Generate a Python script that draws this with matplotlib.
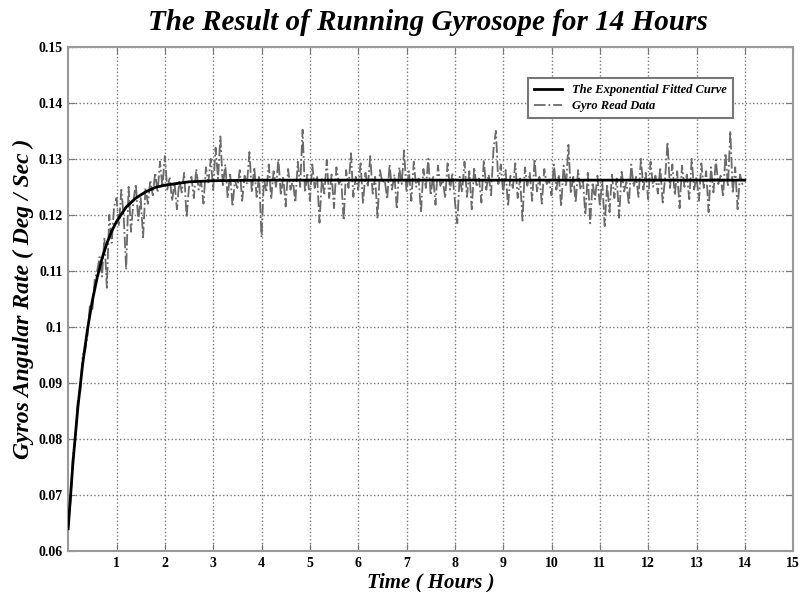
"""
plot.py - Gyroscope 14 h run: raw gyro output and exponential fit.
"""

import numpy as np
import matplotlib
matplotlib.use("Agg")
import matplotlib.pyplot as plt
from matplotlib.ticker import FuncFormatter

# fitted exponential curve (hours, deg/s)
fit_t = [0.0, 0.1, 0.2, 0.3, 0.4, 0.5, 0.6, 0.7, 0.8, 0.9, 1.0, 1.2, 1.4,
         1.6, 1.8, 2.0, 2.5, 3.0, 4.0, 6.0, 8.0, 10.0, 12.0, 14.0]
fit_y = [0.0640, 0.0759, 0.0856, 0.0934, 0.0996, 0.1047, 0.1088, 0.1122,
         0.1149, 0.1171, 0.1188, 0.1214, 0.1230, 0.1241, 0.1249, 0.1253,
         0.1259, 0.1261, 0.1262, 0.1262, 0.1262, 0.1262, 0.1262, 0.1262]

# gyro samples, one every 3 minutes (20 per hour)
PAS = 0.05
gyro = [
    # heure 0
    0.0645, 0.0690, 0.0772, 0.0800, 0.0870, 0.0885, 0.0950, 0.0958, 0.0985, 0.1040,
    0.1030, 0.1085, 0.1100, 0.1125, 0.1090, 0.1160, 0.1070, 0.1200, 0.1150, 0.1215,
    # heure 1
    0.1230, 0.1180, 0.1245, 0.1195, 0.1102, 0.1250, 0.1170, 0.1225, 0.1255, 0.1190,
    0.1230, 0.1160, 0.1248, 0.1220, 0.1262, 0.1235, 0.1275, 0.1240, 0.1295, 0.1250,
    # heure 2
    0.1305, 0.1245, 0.1268, 0.1225, 0.1258, 0.1210, 0.1262, 0.1240, 0.1275, 0.1195,
    0.1250, 0.1268, 0.1230, 0.1282, 0.1245, 0.1260, 0.1220, 0.1285, 0.1258, 0.1300,
    # heure 3
    0.1245, 0.1320, 0.1265, 0.1340, 0.1250, 0.1290, 0.1230, 0.1275, 0.1215, 0.1262,
    0.1248, 0.1280, 0.1225, 0.1270, 0.1255, 0.1312, 0.1240, 0.1285, 0.1232, 0.1270,
    # heure 4
    0.1160, 0.1265, 0.1240, 0.1290, 0.1228, 0.1278, 0.1250, 0.1300, 0.1235, 0.1268,
    0.1215, 0.1282, 0.1245, 0.1262, 0.1222, 0.1295, 0.1250, 0.1352, 0.1240, 0.1275,
    # heure 5
    0.1225, 0.1290, 0.1248, 0.1270, 0.1186, 0.1265, 0.1238, 0.1298, 0.1230, 0.1272,
    0.1212, 0.1285, 0.1255, 0.1262, 0.1190, 0.1280, 0.1248, 0.1310, 0.1232, 0.1268,
    # heure 6
    0.1245, 0.1292, 0.1220, 0.1275, 0.1250, 0.1305, 0.1238, 0.1268, 0.1195, 0.1280,
    0.1258, 0.1262, 0.1228, 0.1290, 0.1245, 0.1272, 0.1210, 0.1285, 0.1255, 0.1315,
    # heure 7
    0.1240, 0.1278, 0.1225, 0.1295, 0.1250, 0.1265, 0.1205, 0.1282, 0.1248, 0.1300,
    0.1235, 0.1270, 0.1218, 0.1288, 0.1252, 0.1262, 0.1230, 0.1292, 0.1245, 0.1275,
    # heure 8
    0.1225, 0.1185, 0.1268, 0.1240, 0.1295, 0.1232, 0.1278, 0.1210, 0.1285, 0.1250,
    0.1265, 0.1222, 0.1298, 0.1245, 0.1272, 0.1235, 0.1318, 0.1350, 0.1255, 0.1290,
    # heure 9
    0.1238, 0.1280, 0.1215, 0.1270, 0.1248, 0.1292, 0.1230, 0.1265, 0.1190, 0.1285,
    0.1252, 0.1275, 0.1225, 0.1300, 0.1242, 0.1268, 0.1220, 0.1282, 0.1255, 0.1262,
    # heure 10
    0.1235, 0.1290, 0.1245, 0.1272, 0.1215, 0.1288, 0.1250, 0.1325, 0.1238, 0.1268,
    0.1222, 0.1280, 0.1245, 0.1262, 0.1200, 0.1275, 0.1185, 0.1258, 0.1228, 0.1270,
    # heure 11
    0.1215, 0.1262, 0.1180, 0.1255, 0.1205, 0.1272, 0.1230, 0.1265, 0.1195, 0.1280,
    0.1242, 0.1258, 0.1218, 0.1290, 0.1250, 0.1268, 0.1232, 0.1300, 0.1245, 0.1275,
    # heure 12
    0.1228, 0.1295, 0.1250, 0.1270, 0.1238, 0.1285, 0.1222, 0.1265, 0.1330, 0.1248,
    0.1290, 0.1235, 0.1278, 0.1212, 0.1288, 0.1250, 0.1272, 0.1228, 0.1300, 0.1245,
    # heure 13
    0.1268, 0.1225, 0.1292, 0.1248, 0.1278, 0.1205, 0.1285, 0.1240, 0.1298, 0.1255,
    0.1270, 0.1232, 0.1310, 0.1250, 0.1350, 0.1238, 0.1285, 0.1210, 0.1272, 0.1255,
    0.1262,
]

X_TICKS = list(range(1, 16))
Y_TICKS = [0.06, 0.07, 0.08, 0.09, 0.10, 0.11, 0.12, 0.13, 0.14, 0.15]

SERIF = ["Liberation Serif", "DejaVu Serif"]


def main():
    plt.rcParams["font.family"] = SERIF
    t_gyro = np.arange(len(gyro)) * PAS

    fig = plt.figure(figsize=(8.02, 5.92), dpi=100)
    ax = fig.add_axes([0.085, 0.069, 0.904, 0.852])

    ax.plot(fit_t, fit_y, "-", color="black", lw=2.0,
            label="The Exponential Fitted Curve", zorder=3)
    ax.plot(t_gyro, gyro, "-.", color="#6a6a6a", lw=1.3,
            label="Gyro Read Data", zorder=2)

    ax.set_xlim(0, 15)
    ax.set_ylim(0.06, 0.15)
    ax.set_xticks(X_TICKS)
    ax.set_yticks(Y_TICKS)
    ax.yaxis.set_major_formatter(FuncFormatter(lambda v, p: "%g" % round(v, 3)))
    ax.tick_params(direction="in", top=True, right=True, length=5,
                   color="#777777", labelsize=10, pad=4)
    for lab in ax.get_xticklabels() + ax.get_yticklabels():
        lab.set_fontweight("bold")

    ax.grid(True, ls=":", color="#777777", lw=1.0)
    for s in ax.spines.values():
        s.set_color("#999999")
        s.set_linewidth(1.5)

    ax.set_xlabel("Time ( Hours )", fontsize=15, fontweight="bold",
                  fontstyle="italic", labelpad=2)
    ax.set_ylabel("Gyros Angular Rate ( Deg / Sec )", fontsize=17,
                  fontweight="bold", fontstyle="italic", labelpad=3)
    # titre centré sur la zone de tracé, comme dans l'original
    fig.text(0.533, 0.962, "The Result of Running Gyrosope for 14 Hours",
             ha="center", va="center", fontsize=21, fontweight="bold",
             fontstyle="italic")

    leg = ax.legend(loc="upper right", bbox_to_anchor=(0.925, 0.95),
                    fancybox=False, framealpha=1, borderpad=0.5,
                    handlelength=2.2, labelspacing=0.3,
                    prop={"family": SERIF, "size": 9, "weight": "bold",
                          "style": "italic"})
    leg.get_frame().set_edgecolor("#777777")
    leg.get_frame().set_linewidth(1.5)

    fig.savefig("out.png", dpi=100)
    plt.close(fig)


if __name__ == "__main__":
    main()
